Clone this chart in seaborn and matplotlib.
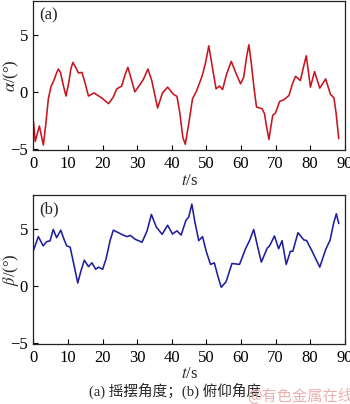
import matplotlib
matplotlib.use("Agg")
import matplotlib.pyplot as plt
import seaborn as sns
import pandas as pd

# Swing angle alpha (deg) over time t (s)
alpha_t = [0, 0.5, 1.7, 2.85, 3.5, 4.3, 5.1, 5.9, 6.6, 7.2, 7.8, 8.6, 9.4, 10.2, 10.8,
           11.4, 12.1, 13.0, 14.0, 14.8, 15.9, 17.5, 19.8, 21.7, 23.0, 24.1, 25.5, 26.5,
           27.3, 28.2, 29.3, 30.5, 31.8, 33.1, 34.2, 35.9, 37.3, 38.8, 40.5, 41.5, 42.3,
           43.2, 43.9, 44.8, 46.0, 47.1, 48.8, 49.8, 50.7, 51.6, 52.8, 53.8, 54.7, 55.8,
           57.2, 58.6, 59.9, 60.8, 61.6, 62.3, 63.0, 63.7, 64.5, 66.1, 66.8, 67.5, 68.1,
           68.7, 69.2, 70.0, 71.2, 72.4, 73.9, 74.9, 75.8, 77.2, 78.2, 78.9, 79.5, 80.1,
           81.3, 82.8, 84.5, 85.9, 86.9, 87.5, 88.3]
alpha_v = [-2.6, -4.35, -3.0, -4.67, -3.0, -0.6, 0.5, 1.0, 1.6, 2.0, 1.7, 0.6, -0.37, 0.8, 2.0,
           2.58, 2.2, 1.65, 1.7, 0.9, -0.37, -0.1, -0.55, -1.04, -0.5, 0.26, 0.5, 1.5,
           2.15, 1.2, 0.0, 0.5, 1.1, 2.0, 1.0, -1.42, -0.1, 0.41, -0.23, -0.4, -1.8,
           -4.0, -4.6, -3.0, -0.6, 0.03, 1.4, 2.6, 4.03, 2.4, 0.26, 0.5, 0.2, 1.5,
           2.67, 1.6, 0.7, 1.28, 3.0, 4.12, 2.5, 0.55, -1.33, -1.48, -1.9, -3.2, -4.17,
           -3.0, -2.06, -1.85, -0.84, -0.7, -0.32, 0.7, 1.36, 0.99, 2.3, 3.16, 1.8, 0.41,
           1.77, 0.32, 1.13, -0.23, -0.52, -1.8, -4.1]

# Pitch angle beta (deg) over time t (s)
beta_t = [0, 1.4, 2.8, 3.8, 4.8, 5.7, 6.7, 7.9, 8.7, 9.6, 10.6, 11.6, 12.8, 13.7, 14.7,
          15.9, 16.9, 18.0, 18.8, 20.0, 21.0, 22.2, 23.1, 25.5, 27.0, 28.0, 29.4, 31.4,
          32.8, 34.1, 35.5, 37.2, 38.8, 40.2, 41.5, 42.7, 44.1, 44.9, 45.8, 46.7, 47.8,
          48.9, 50.0, 51.2, 52.3, 53.3, 54.3, 55.7, 57.4, 59.6, 61.3, 62.5, 63.7, 64.8,
          65.9, 67.6, 68.3, 69.7, 70.9, 71.9, 73.1, 74.3, 75.0, 76.5, 78.2, 79.0, 80.6,
          82.8, 84.5, 85.8, 86.8, 87.6, 88.3]
beta_v = [3.13, 4.34, 3.53, 3.9, 3.97, 4.97, 4.25, 4.91, 4.2, 3.53, 3.42, 2.0, 0.26, 1.3, 2.27,
          1.7, 2.04, 1.47, 1.66, 1.47, 2.4, 4.05, 4.91, 4.54, 4.34, 4.45, 4.11, 3.85,
          4.8, 6.29, 5.2, 4.54, 5.34, 4.57, 4.85, 4.48, 5.78, 6.06, 7.2, 5.6, 3.99,
          4.34, 3.0, 1.9, 2.04, 0.9, -0.11, 0.37, 1.98, 1.9, 3.25, 4.0, 4.97, 3.5,
          2.1, 3.33, 3.53, 4.4, 3.28, 3.99, 1.9, 3.05, 3.05, 4.68, 4.05, 4.0, 3.05,
          1.66, 3.19, 4.05, 5.5, 6.35, 5.49]

x_ticks = [0, 10, 20, 30, 40, 50, 60, 70, 80, 90]
y_ticks = [-5, 0, 5]

sns.set_style("ticks")
plt.rcParams["font.family"] = ["Liberation Serif", "Noto Sans CJK SC", "DejaVu Sans"]
plt.rcParams["mathtext.fontset"] = "stix"

fig = plt.figure(figsize=(3.5, 4.04), dpi=100)
ax_a = fig.add_axes([0.0957, 0.6287, 0.889, 0.3700])
ax_b = fig.add_axes([0.0957, 0.1485, 0.889, 0.3688])

df_a = pd.DataFrame({"t": alpha_t, "v": alpha_v})
df_b = pd.DataFrame({"t": beta_t, "v": beta_v})

sns.lineplot(data=df_a, x="t", y="v", ax=ax_a, color="#C8141E", linewidth=1.15, sort=False)
sns.lineplot(data=df_b, x="t", y="v", ax=ax_b, color="#1E1E9E", linewidth=1.15, sort=False)

for ax, lab, ylab, xly in [(ax_a, "(a)", r"$\alpha$/(°)", -0.155),
                           (ax_b, "(b)", r"$\beta$/(°)", -0.148)]:
    ax.set_xlim(0, 90)
    ax.set_ylim(-5.1, 8.0)
    ax.set_xticks(x_ticks)
    ax.set_yticks(y_ticks)
    ax.tick_params(direction="in", length=3.5, width=0.8, labelsize=12, pad=4,
                   top=False, right=False, colors="black")
    for s in ax.spines.values():
        s.set_visible(True)
        s.set_color("#222222")
        s.set_linewidth(0.9)
    ax.set_xlabel("$t$/s", fontsize=12)
    ax.set_ylabel(ylab, fontsize=12)
    ax.xaxis.set_label_coords(0.5, xly)
    ax.yaxis.set_label_coords(-0.04, 0.5)
    ax.text(0.02, 0.955, lab, transform=ax.transAxes, fontsize=12, va="top", ha="left")

fig.text(0.5, 0.032, "(a) 摇摆角度；(b) 俯仰角度", ha="center", va="center", fontsize=10.5,
         family=["Liberation Serif", "Noto Sans CJK SC"])
fig.text(0.705, 0.020, "@有色金属在线", ha="left", va="center", fontsize=11,
         color="#EDB0B0", family=["Noto Sans CJK SC", "DejaVu Sans"])

fig.savefig("out.png", dpi=100)
